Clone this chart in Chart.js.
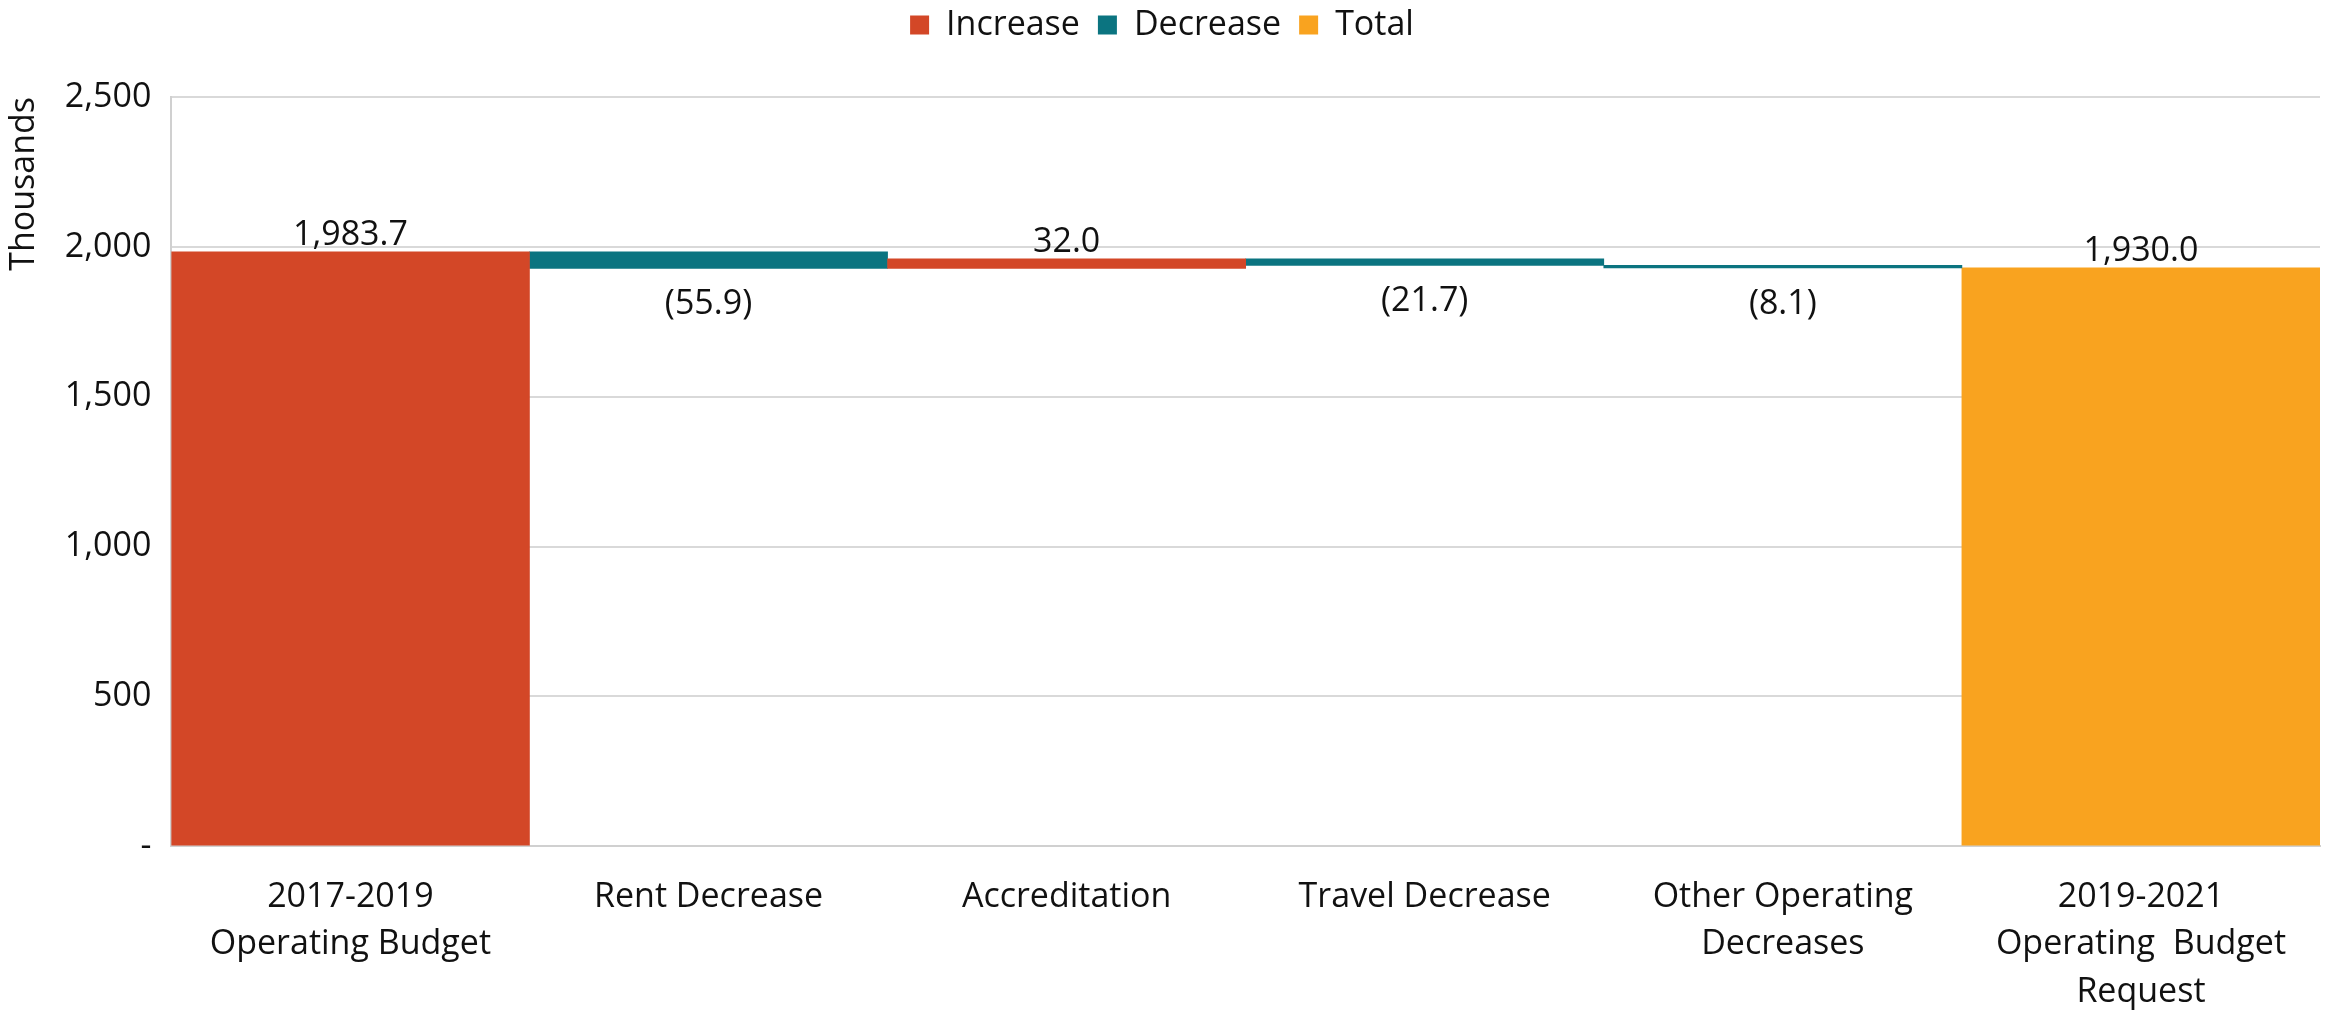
<!DOCTYPE html>
<html>
<head>
<meta charset="utf-8">
<script src="https://cdn.jsdelivr.net/npm/chart.js@4.4.1/dist/chart.umd.min.js"></script>
<style>
  body { margin: 0; background: #fff; }
  #wrap { width: 2336px; height: 1014px; }
</style>
</head>
<body>
<div id="wrap"><canvas id="budgetChart"></canvas></div>
<script>
// Budget waterfall, values in thousands
const categories = [
    ['2017-2019', 'Operating Budget'],
    'Rent Decrease',
    'Accreditation',
    'Travel Decrease',
    ['Other Operating', 'Decreases'],
    ['2019-2021', 'Operating  Budget', 'Request']
];
const startBudget = 1983.7;
const changes = [-55.9, 32.0, -21.7, -8.1];
const endBudget = 1930.0;
const yTicks = [0, 500, 1000, 1500, 2000, 2500];

const FONT = "'Open Sans', sans-serif";
const RED = '#D34727';
const TEAL = '#0B7480';
const ORANGE = '#F9A31F';

// Turn the running total into floating bars
const increaseBars = [[0, startBudget]];
const decreaseBars = [null];
const totalBars = [null];
const barValues = [startBudget];
let running = startBudget;
changes.forEach(change => {
    const next = running + change;
    if (change >= 0) {
        increaseBars.push([running, next]);
        decreaseBars.push(null);
    } else {
        increaseBars.push(null);
        decreaseBars.push([next, running]);
    }
    totalBars.push(null);
    barValues.push(change);
    running = next;
});
increaseBars.push(null);
decreaseBars.push(null);
totalBars.push([0, endBudget]);
barValues.push(endBudget);

function fmt(v) {
    return v.toLocaleString('en-US', { minimumFractionDigits: 1, maximumFractionDigits: 1 });
}

// Value labels: above rising bars, below falling ones
const barLabels = {
    id: 'barLabels',
    afterDatasetsDraw(chart) {
        const ctx = chart.ctx;
        ctx.save();
        ctx.font = `34px ${FONT}`;
        ctx.fillStyle = '#111';
        ctx.textAlign = 'center';
        chart.data.datasets.forEach((ds, i) => {
            chart.getDatasetMeta(i).data.forEach((bar, idx) => {
                if (!ds.data[idx]) return;
                const value = barValues[idx];
                const top = Math.min(bar.y, bar.base);
                const bottom = Math.max(bar.y, bar.base);
                if (value < 0) {
                    ctx.textBaseline = 'top';
                    ctx.fillText('(' + fmt(-value) + ')', bar.x, bottom + 19);
                } else {
                    ctx.textBaseline = 'alphabetic';
                    ctx.fillText(fmt(value), bar.x, top - 7);
                }
            });
        });
        ctx.restore();
    }
};

// Leave a gap between the legend and the plot
const legendGap = {
    id: 'legendGap',
    beforeInit(chart) {
        const fit = chart.legend.fit;
        chart.legend.fit = function () {
            fit.bind(chart.legend)();
            this.height += 45;
        };
    }
};

const font = { family: FONT, size: 34 };

new Chart(document.getElementById('budgetChart'), {
    type: 'bar',
    data: {
        labels: categories,
        datasets: [
            { label: 'Increase', data: increaseBars, backgroundColor: RED },
            { label: 'Decrease', data: decreaseBars, backgroundColor: TEAL },
            { label: 'Total', data: totalBars, backgroundColor: ORANGE }
        ]
    },
    options: {
        responsive: true,
        maintainAspectRatio: false,
        animation: false,
        datasets: { bar: { categoryPercentage: 1, barPercentage: 1, borderWidth: 0 } },
        layout: { padding: { left: 4, right: 16, top: -10, bottom: 0 } },
        plugins: {
            legend: {
                position: 'top',
                labels: { font: font, color: '#111', boxWidth: 19, boxHeight: 19, padding: 18 }
            },
            tooltip: { enabled: false }
        },
        scales: {
            x: {
                stacked: true,
                grid: { display: false, drawTicks: false },
                border: { color: '#d0d0d0', width: 2 },
                afterFit: axis => { axis.height -= 29; },
                ticks: {
                    font: { family: FONT, size: 34, lineHeight: 1.4 },
                    color: '#111',
                    padding: 27,
                    maxRotation: 0,
                    autoSkip: false
                }
            },
            y: {
                min: 0,
                max: 2500,
                afterBuildTicks: axis => { axis.ticks = yTicks.map(v => ({ value: v })); },
                grid: { color: '#d9d9d9', lineWidth: 2, drawTicks: false },
                border: { color: '#d0d0d0', width: 2 },
                ticks: {
                    font: font,
                    color: '#111',
                    padding: 20,
                    callback: v => v === 0 ? '-' : v.toLocaleString('en-US')
                },
                title: {
                    display: true,
                    text: 'Thousands',
                    align: 'end',
                    font: font,
                    color: '#111',
                    padding: { top: 0, bottom: 0 }
                }
            }
        }
    },
    plugins: [barLabels, legendGap]
});
</script>
</body>
</html>
